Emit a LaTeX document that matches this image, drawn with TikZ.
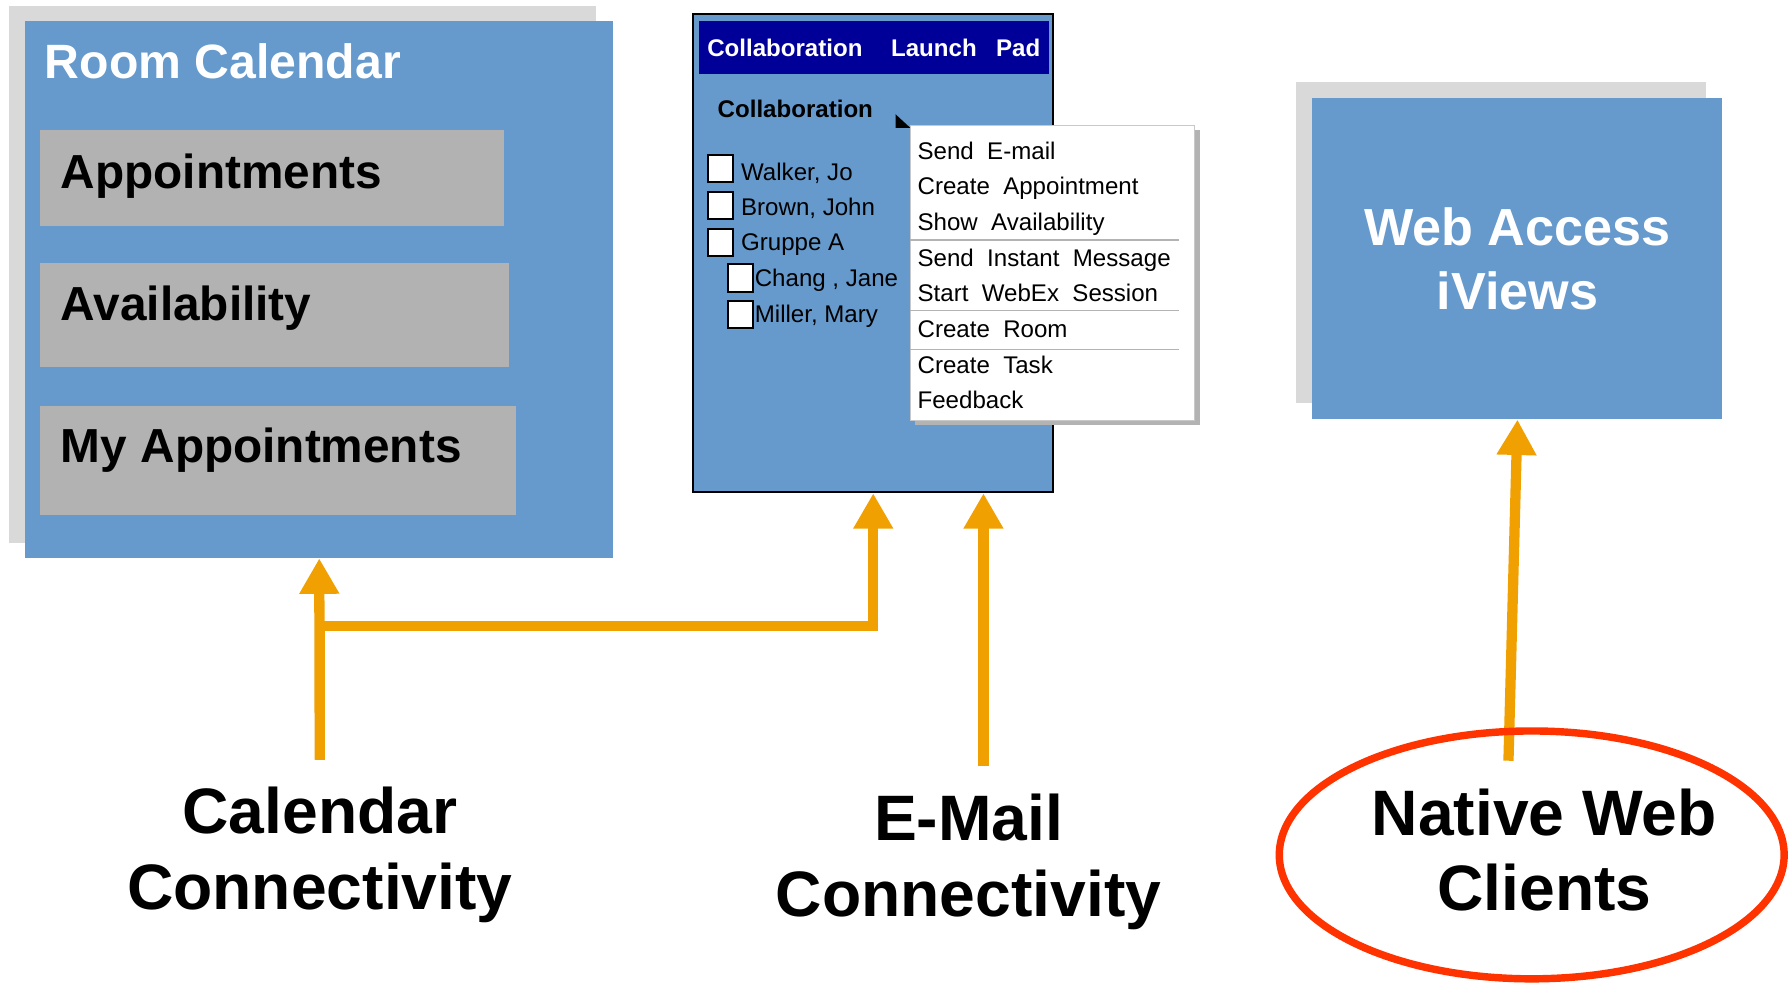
\documentclass[tikz,border=0pt]{standalone}
\usepackage{fontspec}
\setmainfont{Liberation Sans}
\usetikzlibrary{arrows.meta,positioning}

\definecolor{paneblue}{HTML}{6699CC}
\definecolor{ghostgray}{HTML}{D9D9D9}
\definecolor{tilegray}{HTML}{B2B2B2}
\definecolor{barnavy}{HTML}{000099}
\definecolor{menushade}{HTML}{B3B3B3}
\definecolor{menuedge}{HTML}{C8C8C8}
\definecolor{linkorange}{HTML}{F0A000}
\definecolor{ringred}{HTML}{FF3300}

\begin{document}
\begin{tikzpicture}[x=0.2mm,y=-0.2mm,
    pane/.style={fill=paneblue,inner sep=0pt},
    ghost/.style={fill=ghostgray},
    tile/.style={fill=tilegray,inner sep=0pt},
    tiletext/.style={anchor=base west,inner sep=0pt,font=\fontsize{23.8}{28}\selectfont\bfseries},
    menutext/.style={anchor=base west,inner sep=0pt,font=\fontsize{12}{14}\selectfont},
    tickbox/.style={draw=black,fill=white,line width=1pt,minimum width=4.4mm,minimum height=4.8mm,inner sep=0pt},
    caption/.style={anchor=north,align=center,inner sep=0pt,font=\fontsize{32}{37.5}\selectfont\bfseries},
    link/.style={draw=linkorange,line width=1.8mm,shorten <=4.8mm,-{Triangle[width=6.6mm,length=6.2mm]}},
    ring/.style={draw=ringred,line width=1.3mm}
  ]
  \useasboundingbox (0,0) rectangle (1568,863);

  % room calendar
  \fill[ghost] (8,5) rectangle (522,475);
  \node[pane,minimum width=103mm,minimum height=94mm] (calbox) at (279.5,253.5) {};
  \node[anchor=base west,inner sep=0pt,text=white,font=\fontsize{24}{28}\selectfont\bfseries] (caltitle) at (39,69) {Room Calendar};
  \foreach \name/\w/\h/\cy/\base/\txt in {appt/81.2/16.8/156/165/Appointments, avail/82/18.2/276/281/Availability, myappt/83.2/19.1/403/405/My Appointments} {
    \node[tile,minimum width=\w mm,minimum height=\h mm,anchor=west] (\name) at (35,\cy) {};
    \node[tiletext] (\name text) at (53,\base) {\txt};
  }

  % launch pad
  \node[pane,draw=black,line width=1pt,minimum width=63mm,minimum height=83.8mm] (mailbox) at (764.5,221.5) {};
  \node[fill=barnavy,text=white,minimum width=61.2mm,minimum height=9.4mm,inner sep=0pt,font=\fontsize{12}{14}\selectfont\bfseries] (mailbar) at (765,41.5) {Collaboration\hspace{5mm}Launch\hspace{3.4mm}Pad};
  \node[menutext,font=\fontsize{12}{14}\selectfont\bfseries] (collab) at (628,102.5) {Collaboration};
  \foreach \who/\bx/\tx/\cy/\base [count=\k] in {{Walker, Jo}/631/648.5/147.6/157.6, {Brown, John}/631/648.5/180/189, {Gruppe A}/631/648.5/212.5/219.5, {Chang , Jane}/648/660.5/243.4/251, {Miller, Mary}/648/660.5/275.5/282.2} {
    \node[tickbox] (check\k) at (\bx,\cy) {};
    \node[menutext] (who\k) at (\tx,\base) {\who};
  }
  \fill (784,100) -- (797,112) -- (784,112) -- cycle;

  % context menu
  \fill[menushade] (801,114) rectangle (1050.5,372);
  \node[draw=menuedge,fill=white,line width=0.6pt,minimum width=49.8mm,minimum height=51.6mm,inner sep=0pt] (menu) at (921.5,239) {};
  \foreach \entry [count=\k] in {Send\ \ E-mail, Create\ \ Appointment, Show\ \ Availability, Send\ \ Instant\ \ Message, Start\ \ WebEx\ \ Session, Create\ \ Room, Create\ \ Task, Feedback} {
    \node[menutext] (item\k) at (803,{108.3+31.2*\k}) {\entry};
  }
  \foreach \y in {210,272,306}
    \draw[menushade,line width=0.8pt] (797,\y) -- (1032,\y);

  % web access
  \fill[ghost] (1135,72) rectangle (1494,353);
  \node[pane,text=white,align=center,minimum width=71.8mm,minimum height=56.2mm,font=\fontsize{26}{31.6}\selectfont\bfseries] (webbox) at (1328.5,226.5) {Web Access\\iViews};

  % captions and arrows
  \node[caption] (callabel) at (280,689) {Calendar\\Connectivity};
  \node[caption] (maillabel) at (848,695) {E-Mail\\Connectivity};
  \node[caption] (natlabel) at (1352,690) {Native Web\\Clients};
  \coordinate (fork) at (280,548);

  \draw[link] (callabel.north) -- (calbox.south);
  \draw[link] (callabel.north) -- (fork) -| (mailbox.south);
  \draw[link] ([xshift=2.6mm]maillabel.north) -- ([xshift=2.6mm]maillabel.north |- mailbox.south);
  \draw[link] ([xshift=-6.4mm]natlabel.north) -- (webbox.south);
  \draw[ring] ([xshift=-2.2mm,yshift=-0.9mm]natlabel.center) ellipse [x radius=44.2mm, y radius=21.7mm];
\end{tikzpicture}
\end{document}
